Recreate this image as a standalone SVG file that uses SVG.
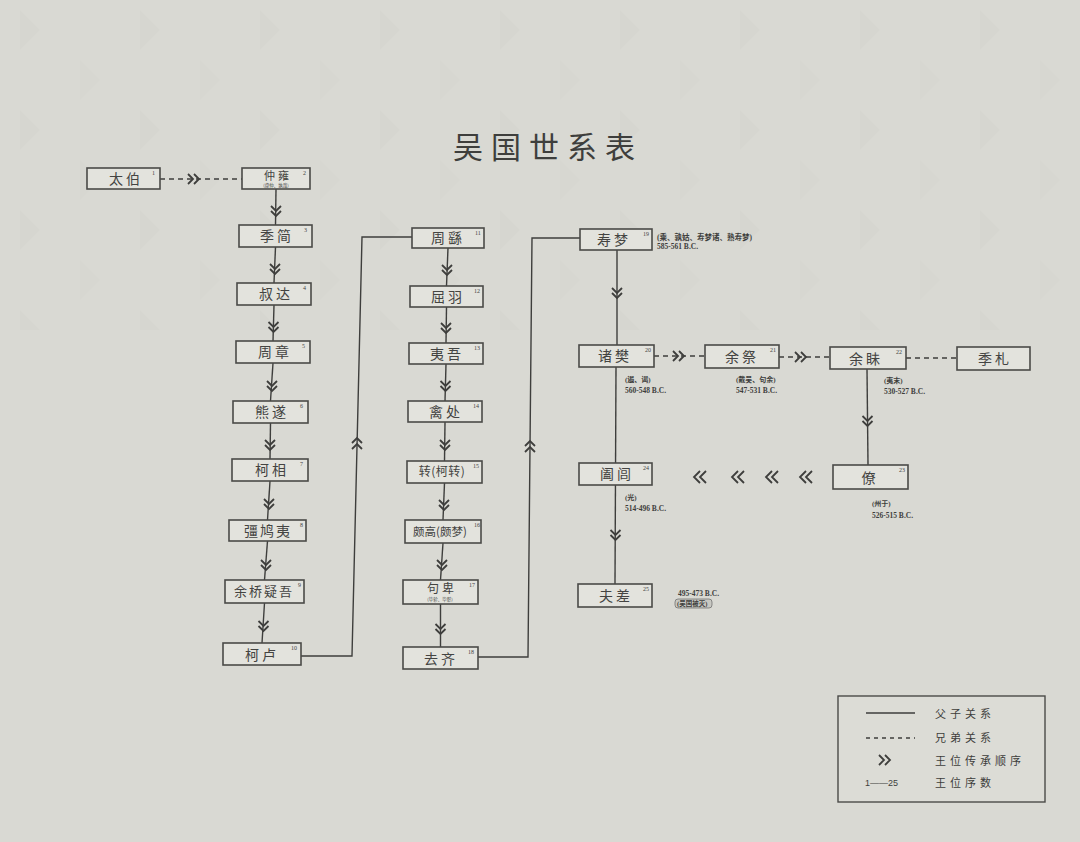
<svg xmlns="http://www.w3.org/2000/svg" width="1080" height="842" viewBox="0 0 1080 842">
<defs>
<style>
.bx{fill:#e3e3dd;stroke:#4a4a48;stroke-width:1.6}
.t{font-family:"Noto Sans CJK SC","Noto Sans",sans-serif;font-size:14px;fill:#444442;text-anchor:middle;letter-spacing:3px}
.sup{font-family:"Liberation Serif",serif;font-size:6px;fill:#444}
.sub{font-family:"Noto Sans CJK SC",sans-serif;font-size:4.5px;fill:#444;text-anchor:middle}
.ann{font-family:"Liberation Serif","Noto Sans CJK SC",serif;font-size:7.5px;fill:#3e3e3c;font-weight:bold}
.ln{fill:none;stroke:#3e3e3c;stroke-width:1.4}
.dl{fill:none;stroke:#3e3e3c;stroke-width:1.4;stroke-dasharray:5 4}
.ch{fill:none;stroke:#3e3e3c;stroke-width:1.8}
.lg{font-family:"Noto Sans CJK SC",sans-serif;font-size:11px;fill:#3e3e3c;letter-spacing:4px}
</style>
<path id="dn" class="ch" d="M-5,-6 L0,-1 L5,-6 M-5,-1 L0,4 L5,-1"/>
<pattern id="bg" width="120" height="100" patternUnits="userSpaceOnUse">
<polygon points="20,10 40,30 20,50" fill="#d1d1cb"/>
<polygon points="80,60 100,80 80,100" fill="#d3d3cd"/>
</pattern>
</defs>
<rect width="1080" height="842" fill="#d9d9d3"/>
<rect width="1080" height="330" fill="url(#bg)" opacity="0.35"/>
<text x="548" y="158" font-family="Noto Sans CJK SC,sans-serif" font-size="30" fill="#3e3e3c" text-anchor="middle" letter-spacing="8">吴国世系表</text>

<g id="connectors">
<line class="dl" x1="160" y1="179" x2="242" y2="179"/>
<path class="ch" d="M188,174 L193,179 L188,184 M194,174 L199,179 L194,184"/>
<polyline class="ln" points="276,189 275.5,225"/>
<polyline class="ln" points="275.5,247 274,283"/>
<polyline class="ln" points="274,305 273,341"/>
<polyline class="ln" points="273,363 270.5,401"/>
<polyline class="ln" points="270.5,423 270,459"/>
<polyline class="ln" points="270,481 267.5,520"/>
<polyline class="ln" points="267.5,541 264.5,580"/>
<polyline class="ln" points="264.5,603 262,643"/>
<use href="#dn" x="276" y="212"/>
<use href="#dn" x="275" y="270"/>
<use href="#dn" x="273.5" y="328"/>
<use href="#dn" x="272" y="387"/>
<use href="#dn" x="270" y="446"/>
<use href="#dn" x="269" y="505"/>
<use href="#dn" x="266" y="566"/>
<use href="#dn" x="263.5" y="627"/>
<polyline class="ln" points="301,656 352,656 362,237 412,237"/>
<path class="ch" d="M352,443 L357,438 L362,443 M352,449 L357,444 L362,449"/>
<polyline class="ln" points="448,248 446.5,286"/>
<polyline class="ln" points="446.5,307 446,343"/>
<polyline class="ln" points="446,364 445,401"/>
<polyline class="ln" points="445,422 444.5,461"/>
<polyline class="ln" points="444.5,483 443,520"/>
<polyline class="ln" points="443,543 440.5,580"/>
<polyline class="ln" points="440.5,604 440.5,647"/>
<use href="#dn" x="447" y="271"/>
<use href="#dn" x="446" y="329"/>
<use href="#dn" x="445.5" y="387"/>
<use href="#dn" x="445" y="446"/>
<use href="#dn" x="444" y="506"/>
<use href="#dn" x="442" y="566"/>
<use href="#dn" x="440.5" y="630"/>
<polyline class="ln" points="478,657 528,657 532,238 580,238"/>
<path class="ch" d="M525,446 L530,441 L535,446 M525,452 L530,447 L535,452"/>
<line class="ln" x1="617" y1="250" x2="617" y2="345"/>
<use href="#dn" x="617" y="294"/>
<line class="ln" x1="616" y1="367" x2="615" y2="584"/>
<use href="#dn" x="615.5" y="536"/>
<line class="dl" x1="654" y1="356" x2="705" y2="356"/>
<path class="ch" d="M673,351 L678,356 L673,361 M679,351 L684,356 L679,361"/>
<line class="dl" x1="779" y1="357" x2="830" y2="357"/>
<path class="ch" d="M795,352 L800,357 L795,362 M801,352 L806,357 L801,362"/>
<line class="dl" x1="906" y1="358" x2="957" y2="358"/>
<line class="ln" x1="867" y1="369" x2="868" y2="465"/>
<use href="#dn" x="867.5" y="422"/>
<path class="ch" d="M700,471 L694,477 L700,483 M706,471 L700,477 L706,483"/>
<path class="ch" d="M738,471 L732,477 L738,483 M744,471 L738,477 L744,483"/>
<path class="ch" d="M772,471 L766,477 L772,483 M778,471 L772,477 L778,483"/>
<path class="ch" d="M806,471 L800,477 L806,483 M812,471 L806,477 L812,483"/>
</g>

<g id="n1"><rect class="bx" x="87" y="168" width="73" height="21"/><text class="t" x="126" y="184">太伯</text><text class="sup" x="152" y="175">1</text></g>
<g id="n2"><rect class="bx" x="242" y="168" width="68" height="21"/><text class="t" x="278" y="180" style="font-size:11px">仲雍</text><text class="sub" x="276" y="187">(虞仲、孰哉)</text><text class="sup" x="303" y="175">2</text></g>
<g id="n3"><rect class="bx" x="239" y="225" width="73" height="22"/><text class="t" x="277" y="241">季简</text><text class="sup" x="304" y="232">3</text></g>
<g id="n4"><rect class="bx" x="237" y="283" width="74" height="22"/><text class="t" x="276" y="299">叔达</text><text class="sup" x="303" y="290">4</text></g>
<g id="n5"><rect class="bx" x="236" y="341" width="74" height="22"/><text class="t" x="275" y="357">周章</text><text class="sup" x="302" y="348">5</text></g>
<g id="n6"><rect class="bx" x="233" y="401" width="75" height="22"/><text class="t" x="272" y="417">熊遂</text><text class="sup" x="300" y="408">6</text></g>
<g id="n7"><rect class="bx" x="232" y="459" width="76" height="22"/><text class="t" x="272" y="475">柯相</text><text class="sup" x="300" y="466">7</text></g>
<g id="n8"><rect class="bx" x="229" y="520" width="77" height="21"/><text class="t" x="268" y="536" style="letter-spacing:2px">彊鸠夷</text><text class="sup" x="300" y="527">8</text></g>
<g id="n9"><rect class="bx" x="225" y="580" width="79" height="23"/><text class="t" x="264" y="596" style="font-size:13px;letter-spacing:2px">余桥疑吾</text><text class="sup" x="298" y="587">9</text></g>
<g id="n10"><rect class="bx" x="223" y="643" width="78" height="22"/><text class="t" x="262" y="660">柯卢</text><text class="sup" x="291" y="650">10</text></g>

<g id="n11"><rect class="bx" x="412" y="228" width="72" height="20"/><text class="t" x="448" y="243">周繇</text><text class="sup" x="475" y="235">11</text></g>
<g id="n12"><rect class="bx" x="410" y="286" width="73" height="21"/><text class="t" x="448" y="302">屈羽</text><text class="sup" x="474" y="293">12</text></g>
<g id="n13"><rect class="bx" x="409" y="343" width="74" height="21"/><text class="t" x="447" y="359">夷吾</text><text class="sup" x="474" y="350">13</text></g>
<g id="n14"><rect class="bx" x="408" y="401" width="74" height="21"/><text class="t" x="446" y="417">禽处</text><text class="sup" x="473" y="408">14</text></g>
<g id="n15"><rect class="bx" x="407" y="461" width="75" height="22"/><text class="t" x="442" y="476" style="font-size:12px;letter-spacing:0.5px">转(柯转)</text><text class="sup" x="473" y="468">15</text></g>
<g id="n16"><rect class="bx" x="405" y="520" width="76" height="23"/><text class="t" x="440" y="536" style="font-size:11.5px;letter-spacing:0px">颇高(颇梦)</text><text class="sup" x="474" y="527">16</text></g>
<g id="n17"><rect class="bx" x="403" y="580" width="75" height="24"/><text class="t" x="442" y="593" style="font-size:12px">句卑</text><text class="sub" x="440" y="601">(毕轸、毕彰)</text><text class="sup" x="469" y="587">17</text></g>
<g id="n18"><rect class="bx" x="403" y="647" width="75" height="22"/><text class="t" x="441" y="664">去齐</text><text class="sup" x="468" y="654">18</text></g>

<g id="n19"><rect class="bx" x="580" y="229" width="72" height="21"/><text class="t" x="614" y="245">寿梦</text><text class="sup" x="643" y="236">19</text>
<text class="ann" x="657" y="240" style="font-size:7.5px">(乘、孰姑、寿梦诸、熟寿梦)</text><text class="ann" x="657" y="249">585-561 B.C.</text></g>
<g id="n20"><rect class="bx" x="579" y="345" width="75" height="22"/><text class="t" x="615" y="361">诸樊</text><text class="sup" x="645" y="352">20</text>
<text class="ann" x="625" y="382" style="font-size:7px">(遏、谒)</text><text class="ann" x="625" y="393">560-548 B.C.</text></g>
<g id="n21"><rect class="bx" x="705" y="345" width="74" height="23"/><text class="t" x="742" y="362">余祭</text><text class="sup" x="770" y="352">21</text>
<text class="ann" x="736" y="382" style="font-size:7px">(戴吴、句余)</text><text class="ann" x="736" y="393">547-531 B.C.</text></g>
<g id="n22"><rect class="bx" x="830" y="347" width="76" height="22"/><text class="t" x="866" y="364">余眛</text><text class="sup" x="896" y="354">22</text>
<text class="ann" x="884" y="383" style="font-size:7px">(夷末)</text><text class="ann" x="884" y="394">530-527 B.C.</text></g>
<g id="n26"><rect class="bx" x="957" y="347" width="73" height="23"/><text class="t" x="995" y="364">季札</text></g>
<g id="n23"><rect class="bx" x="833" y="465" width="75" height="24"/><text class="t" x="870" y="483">僚</text><text class="sup" x="899" y="472">23</text>
<text class="ann" x="872" y="506" style="font-size:7px">(州于)</text><text class="ann" x="872" y="518">526-515 B.C.</text></g>
<g id="n24"><rect class="bx" x="579" y="463" width="73" height="22"/><text class="t" x="617" y="479">阖闾</text><text class="sup" x="643" y="470">24</text>
<text class="ann" x="625" y="500" style="font-size:7px">(光)</text><text class="ann" x="625" y="511">514-496 B.C.</text></g>
<g id="n25"><rect class="bx" x="578" y="584" width="74" height="23"/><text class="t" x="616" y="601">夫差</text><text class="sup" x="643" y="591">25</text>
<text class="ann" x="678" y="596">495-473 B.C.</text><rect x="675" y="599" width="37" height="9" rx="3" fill="#c8c8c2" stroke="#555" stroke-width="0.6"/><text class="ann" x="677" y="606" style="font-size:6.5px">(吴国被灭)</text></g>

<g id="legend">
<rect x="838" y="696" width="207" height="106" fill="#dcdcd6" stroke="#4a4a48" stroke-width="1.4"/>
<line class="ln" x1="866" y1="713" x2="915" y2="713"/>
<text class="lg" x="935" y="718">父子关系</text>
<line class="dl" x1="866" y1="738" x2="915" y2="738" style="stroke-dasharray:4 4"/>
<text class="lg" x="935" y="742">兄弟关系</text>
<path class="ch" d="M879,755 L884,760 L879,765 M885,755 L890,760 L885,765"/>
<text class="lg" x="935" y="765">王位传承顺序</text>
<text x="865" y="786" font-family="Liberation Sans,sans-serif" font-size="9" fill="#3e3e3c">1——25</text>
<text class="lg" x="935" y="787">王位序数</text>
</g>
</svg>
